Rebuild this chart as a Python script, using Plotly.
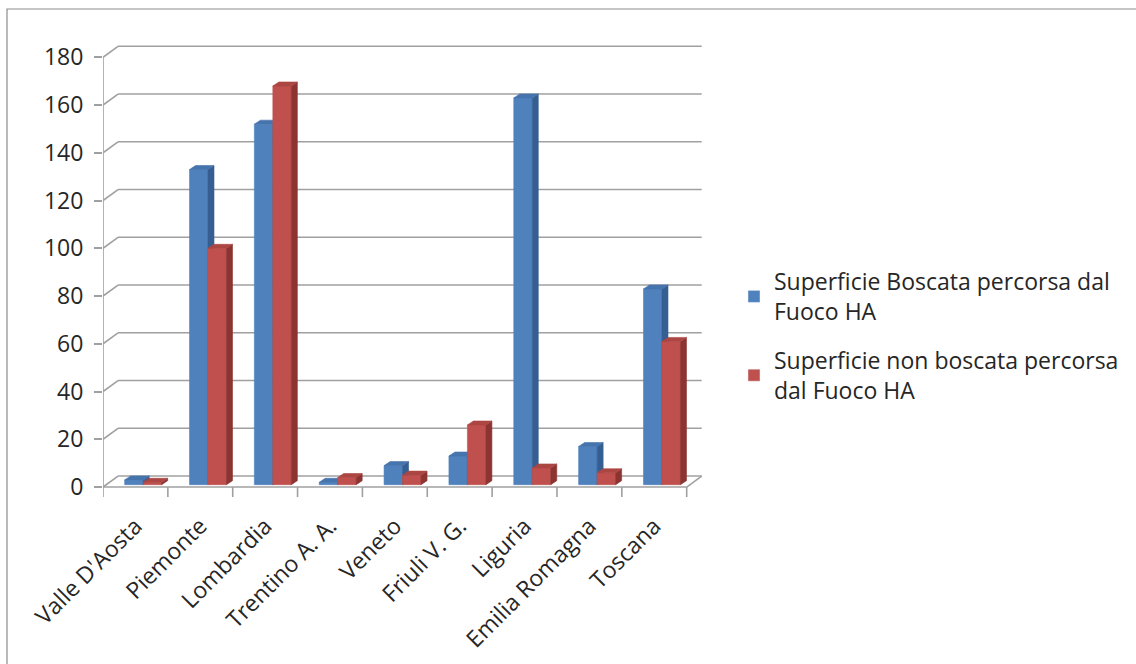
import plotly.graph_objects as go

categories = ["Valle D'Aosta", "Piemonte", "Lombardia", "Trentino A. A.", "Veneto",
              "Friuli V. G.", "Liguria", "Emilia Romagna", "Toscana"]
boscata = [2, 132, 151, 1, 8, 12, 162, 16, 82]
non_boscata = [1, 99, 167, 3, 4, 25, 7, 5, 60]
series_names = ["Superficie Boscata percorsa dal<br>Fuoco HA",
                "Superficie non boscata percorsa<br>dal Fuoco HA"]
y_ticks = [0, 20, 40, 60, 80, 100, 120, 140, 160, 180]

FONT = "Open Sans"
FSIZE = 23
GRID = "#a0a0a0"
PX_X = 64.8   # px per category unit
PX_Y = 2.387  # px per value unit
WDX, WDY = 15 / PX_X, 11 / PX_Y   # wall depth
BDX, BDY = 6 / PX_X, 4 / PX_Y     # bar depth
BASE = 1.0                         # bars sit slightly behind the front edge
BW = 0.285
offsets = [-0.166, 0.119]
colors = [("#4F81BD", "#355E92", "#4674AD"), ("#C0504D", "#8C3432", "#AC4643")]

fig = go.Figure()

n = len(categories)
for s, vals in enumerate([boscata, non_boscata]):
    fx, fy, sx, sy, tx, ty = [], [], [], [], [], []
    for i, v in enumerate(vals):
        x0 = i + offsets[s]
        x1 = x0 + BW
        b, t = BASE, BASE + v
        fx += [x0, x0, x1, x1, x0, None]
        fy += [b, t, t, b, b, None]
        sx += [x1, x1 + BDX, x1 + BDX, x1, x1, None]
        sy += [b, b + BDY, t + BDY, t, b, None]
        tx += [x0, x0 + BDX, x1 + BDX, x1, x0, None]
        ty += [t, t + BDY, t + BDY, t, t, None]
    front, side, top = colors[s]
    for xs, ys, c in [(fx, fy, front), (sx, sy, side), (tx, ty, top)]:
        fig.add_trace(go.Scatter(x=xs, y=ys, mode="lines", fill="toself", fillcolor=c,
                                 line=dict(width=0.6, color=c), showlegend=False,
                                 hoverinfo="skip"))
    fig.add_trace(go.Bar(x=[None], y=[None], name=series_names[s], marker_color=front,
                         legendgroup=str(s), showlegend=True))

shapes = []
line = dict(color=GRID, width=1.6)
for v in y_ticks:
    shapes.append(dict(type="line", xref="x", yref="y", x0=-0.5, y0=v, x1=-0.5 + WDX, y1=v + WDY, line=line, layer="below"))
    shapes.append(dict(type="line", xref="x", yref="y", x0=-0.5 + WDX, y0=v + WDY, x1=n - 0.5 + WDX, y1=v + WDY, line=line, layer="below"))
# floor
shapes.append(dict(type="line", xref="x", yref="y", x0=-0.5, y0=0, x1=n - 0.5, y1=0, line=line, layer="below"))
shapes.append(dict(type="line", xref="x", yref="y", x0=n - 0.5, y0=0, x1=n - 0.5 + WDX, y1=WDY, line=line, layer="below"))
# y axis line
shapes.append(dict(type="line", xref="x", yref="y", x0=-0.5, y0=0, x1=-0.5, y1=y_ticks[-1], line=line, layer="below"))
# category boundary ticks
for k in range(n + 1):
    shapes.append(dict(type="line", xref="x", yref="y", x0=-0.5 + k, y0=0, x1=-0.5 + k, y1=-10 / PX_Y, line=line, layer="below"))

# chart border
W, H = 1136, 664
L, R, T, B = 103, 433, 43, 165
pw, ph = W - L - R, H - T - B
shapes.append(dict(type="rect", xref="paper", yref="paper",
                   x0=(7 - L) / pw, x1=(W + 10 - L) / pw,
                   y0=1 - (H + 10 - T) / ph, y1=1 + (T - 9) / ph,
                   line=dict(color="#8c8c8c", width=1.2)))

fig.update_layout(
    width=W, height=H,
    margin=dict(l=L, r=R, t=T, b=B, pad=0, autoexpand=False),
    paper_bgcolor="white", plot_bgcolor="white",
    font=dict(family=FONT, size=FSIZE, color="#262626"),
    shapes=shapes,
    showlegend=True,
    legend=dict(x=(734 - L) / pw, y=1 - (260 - T) / ph, xanchor="left", yanchor="top",
                font=dict(family=FONT, size=FSIZE, color="#262626"),
                tracegroupgap=16, traceorder="grouped", itemwidth=30,
                bgcolor="rgba(0,0,0,0)"),
    xaxis=dict(range=[-0.5, n - 0.5 + WDX + 0.02], tickvals=list(range(n)), ticktext=categories,
               tickangle=-45, showgrid=False, zeroline=False, showline=False, ticks="",
               ticklabelstandoff=8, fixedrange=True, automargin=False),
    yaxis=dict(range=[-5, 186], tickvals=y_ticks, showgrid=False, zeroline=False, showline=False,
               ticks="outside", ticklen=8, tickcolor=GRID, tickwidth=1.6,
               ticklabelstandoff=6, fixedrange=True, automargin=False),
    bargap=0,
)

fig.write_html("out.html")
